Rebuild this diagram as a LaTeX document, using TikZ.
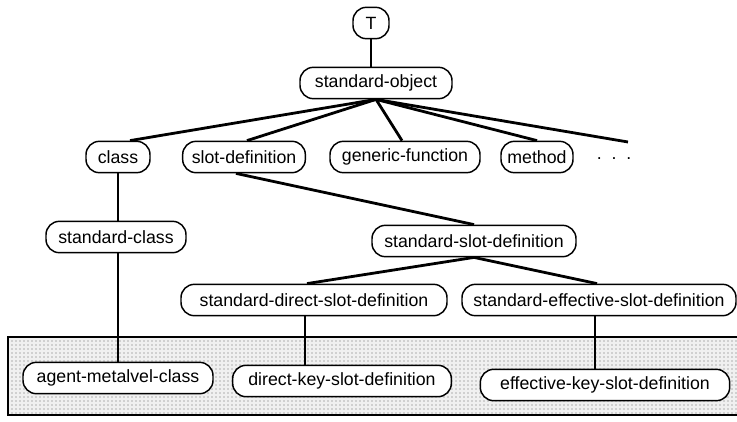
\documentclass[tikz,border=0pt]{standalone}
\usepackage{fontspec}
\setmainfont{Liberation Sans}
\usetikzlibrary{patterns,calc}
\begin{document}
\begin{tikzpicture}[x=0.75pt,y=-0.75pt,
  cls/.style={draw,line width=1.1pt,rounded corners=10pt,fill=white,inner sep=0pt,
    minimum height=23.5pt,font=\fontsize{13.3}{15}\selectfont},
  link/.style={line width=2.1pt},
  region/.style={line width=2.1pt}]
\useasboundingbox (0,0) rectangle (737,421);
% shaded region
\begin{scope}
\clip (0,0) rectangle (737,421);
\fill[black!6] (8,337) rectangle (760,415);
\fill[pattern=dots,pattern color=black!60] (8,337) rectangle (760,415);
\draw[region] (760,337) -- (8,337) -- (8,415) -- (760,415);
\end{scope}
% nodes
\node[cls,minimum width=27pt] (T) at (371,23) {T};
\node[cls,minimum width=114pt] (so) at (376,83) {standard-object};
\node[cls,minimum width=48pt] (class) at (118,157) {class};
\node[cls,minimum width=92pt] (slotdef) at (244,157) {slot-definition};
\node[cls,minimum width=112.5pt] (gf) at (405,157) {generic-function};
\node[cls,minimum width=54pt] (method) at (537,157) {method};
\node[font=\fontsize{13.3}{15}\selectfont] (more) at (614,159) {.\ \ .\ \ .};
\coordinate (moreend) at (628,142);
\node[cls,minimum width=105pt] (stdclass) at (116,237) {standard-class};
\node[cls,minimum width=153pt] (ssd) at (474,241) {standard-slot-definition};
\node[cls,minimum width=199.5pt] (sdsd) at (314,300) {standard-direct-slot-definition};
\node[cls,minimum width=205.5pt] (sesd) at (599,300) {standard-effective-slot-definition};
\node[cls,minimum width=142.5pt] (agent) at (118,378) {agent-metalvel-class};
\node[cls,minimum width=164pt] (dksd) at (342,381) {direct-key-slot-definition};
\node[cls,minimum width=187pt] (eksd) at (605,385) {effective-key-slot-definition};
% connectors
\draw[link] (T.south) -- (T.south |- so.north);
\draw[link] (so.south) -- ($(class.north)+(12,0)$);
\draw[link] (so.south) -- ($(slotdef.north)+(3,0)$);
\draw[link] (so.south) -- ($(gf.north)+(-3,0)$);
\draw[link] (so.south) -- (method.north);
\draw[link] (so.south) -- (moreend);
\draw[link] (class.south) -- (class.south |- stdclass.north);
\draw[link] (stdclass.south -| agent.north) -- (agent.north);
\draw[link] ($(slotdef.south)+(-8,0)$) -- (ssd.north);
\draw[link] (ssd.south) -- ($(sdsd.north)+(-7,0)$);
\draw[link] (ssd.south) -- ($(sesd.north)+(-2,0)$);
\draw[link] (sdsd.south) ++(-9,0) coordinate (dk) -- (dk |- dksd.north);
\draw[link] (sesd.south) ++(-4,0) coordinate (ek) -- (ek |- eksd.north);
\end{tikzpicture}
\end{document}
